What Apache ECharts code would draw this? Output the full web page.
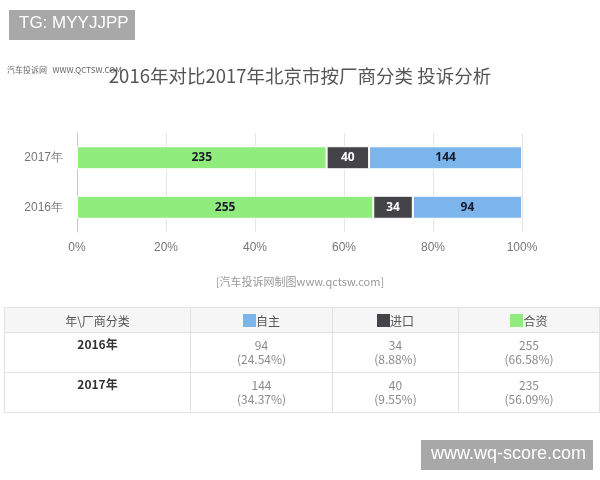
<!DOCTYPE html>
<html>
<head>
<meta charset="utf-8">
<script src="https://cdn.jsdelivr.net/npm/echarts@6/dist/echarts.min.js"></script>
<style>
  body { margin: 0; background: #fff; font-family: "Noto Sans CJK SC", "Noto Sans", sans-serif; }
  #chart { position: absolute; left: 0; top: 0; width: 600px; height: 480px; }
  #tbl {
    position: absolute; left: 4px; top: 307px; width: 595px;
    border-collapse: collapse; font-size: 12px; table-layout: fixed;
  }
  #tbl td { border: 1px solid #e2e2e2; text-align: center; padding: 0; }
  #tbl tr.head td { height: 24px; background: #f6f6f6; color: #555; vertical-align: middle; }
  #tbl tr.body td { height: 34px; vertical-align: top; padding-top: 5px; line-height: 14px; color: #8a8a8a; }
  #tbl tr.body td.year { color: #333; font-weight: bold; padding-top: 4px; }
  .sw { display: inline-block; width: 13px; height: 13px; vertical-align: -1px; }
</style>
</head>
<body>
<div id="chart"></div>
<table id="tbl"></table>
<script>
// 数据
const years = ['2016年', '2017年'];
const ziZhuCount = [94, 144];
const jinKouCount = [34, 40];
const heZiCount = [255, 235];
const ziZhuPct = [24.54, 34.37];
const jinKouPct = [8.88, 9.55];
const heZiPct = [66.58, 56.09];
const xTicks = [0, 20, 40, 60, 80, 100];

const BLUE = '#7cb5ec', DARK = '#434348', GREEN = '#90ed7d';

const chart = echarts.init(document.getElementById('chart'));

function seg(name, pct, counts, color, labelColor) {
  return {
    name: name,
    type: 'bar',
    stack: 'total',
    barWidth: 23,
    data: pct,
    itemStyle: { color: color, borderColor: '#fff', borderWidth: 1 },
    label: {
      show: true,
      position: 'inside',
      fontSize: 12,
      fontWeight: 'bold',
      color: labelColor,
      fontFamily: 'Noto Sans',
      formatter: p => counts[p.dataIndex]
    }
  };
}

const option = {
  animation: false,
  grid: { left: 77, right: 78, top: 133, bottom: 248, containLabel: false },
  xAxis: {
    type: 'value',
    min: xTicks[0],
    max: xTicks[xTicks.length - 1],
    interval: 20,
    axisLine: { show: false },
    axisTick: { show: false },
    splitLine: { lineStyle: { color: '#e6e6e6' } },
    axisLabel: { formatter: '{value}%', color: '#777', fontSize: 12, margin: 10 }
  },
  yAxis: {
    type: 'category',
    data: years,
    axisLine: { lineStyle: { color: '#c8c8c8' } },
    axisTick: { length: 8, lineStyle: { color: '#c8c8c8' } },
    axisLabel: { color: '#777', fontSize: 12, margin: 14 }
  },
  series: [
    seg('合资', heZiPct, heZiCount, GREEN, '#1a1a2a'),
    seg('进口', jinKouPct, jinKouCount, DARK, '#fff'),
    seg('自主', ziZhuPct, ziZhuCount, BLUE, '#1a1a2a')
  ],
  graphic: [
    { type: 'rect', left: 9, top: 10, shape: { width: 126, height: 30 }, style: { fill: '#a8a8a8' } },
    { type: 'text', left: 19, top: 15, style: { text: 'TG: MYYJJPP', fill: '#fff', font: '17px "Liberation Sans"' } },
    { type: 'text', left: 7, top: 66, style: { text: '汽车投诉网   WWW.QCTSW.COM', fill: '#666', font: '8px "Noto Sans CJK SC"' } },
    { type: 'text', left: 'center', top: 67, style: { text: '2016年对比2017年北京市按厂商分类 投诉分析', fill: '#555', font: '18.5px "Noto Sans CJK SC"' } },
    { type: 'text', left: 'center', top: 276, style: { text: '[汽车投诉网制图www.qctsw.com]', fill: '#999', font: '11px "Noto Sans CJK SC"' } },
    { type: 'rect', left: 421, top: 440, shape: { width: 172, height: 30 }, style: { fill: '#a8a8a8' } },
    { type: 'text', left: 431, top: 445, style: { text: 'www.wq-score.com', fill: '#fff', font: '18px "Liberation Sans"' } }
  ]
};
chart.setOption(option);

// 表格
const cats = [
  { name: '自主', color: BLUE, count: ziZhuCount, pct: ziZhuPct },
  { name: '进口', color: DARK, count: jinKouCount, pct: jinKouPct },
  { name: '合资', color: GREEN, count: heZiCount, pct: heZiPct }
];
const widths = [186, 142, 126, 141];
let html = '<colgroup>' + widths.map(w => '<col style="width:' + w + 'px">').join('') + '</colgroup>';
html += '<tr class="head"><td>年\\厂商分类</td>' +
  cats.map(c => '<td><span class="sw" style="background:' + c.color + '"></span>' + c.name + '</td>').join('') + '</tr>';
years.forEach((y, i) => {
  html += '<tr class="body"><td class="year">' + y + '</td>' +
    cats.map(c => '<td>' + c.count[i] + '<br>(' + c.pct[i].toFixed(2) + '%)</td>').join('') + '</tr>';
});
document.getElementById('tbl').innerHTML = html;
</script>
</body>
</html>
